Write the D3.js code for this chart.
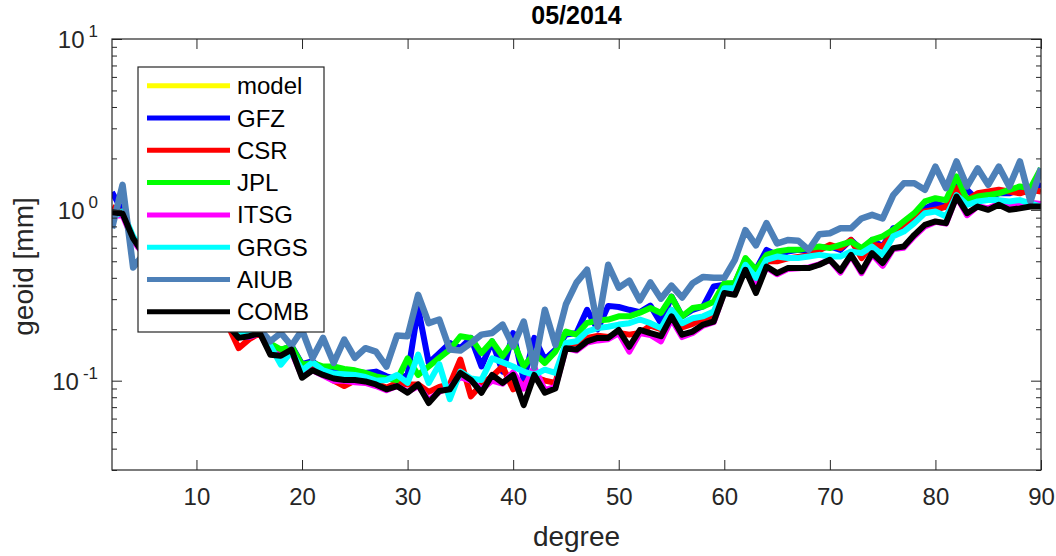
<!DOCTYPE html>
<html>
<head>
<meta charset="utf-8">
<script src="https://cdn.jsdelivr.net/npm/d3@7"></script>
<style>
  html, body { margin: 0; padding: 0; background: #fff; }
  svg { display: block; font-family: "Liberation Sans", Arial, Helvetica, sans-serif; }
</style>
</head>
<body>
<svg id="chart" width="1056" height="556"></svg>
<script>
// ---------- DATA ----------
const degrees = d3.range(2, 91); // 2..90
const titleText = "05/2014";
const xLabel = "degree";
const yLabel = "geoid [mm]";
const xTicks = [10, 20, 30, 40, 50, 60, 70, 80, 90];
const yMajorTicks = [0.1, 1, 10];
const yTickExponents = ["-1", "0", "1"];
const seriesNames = ["model", "GFZ", "CSR", "JPL", "ITSG", "GRGS", "AIUB", "COMB"];
const seriesColors = ["#ffff00", "#0000ff", "#ff0000", "#00ff00", "#ff00ff", "#00ffff", "#4d80b8", "#000000"];

const model = []; // not visible in the figure

const GFZ = [1.27,0.98,0.66,0.56,0.48,0.43,0.38,0.34,0.31,0.28,0.25,0.22,
  0.19,0.195,0.2,0.155,0.15,0.16,0.125,0.13,0.115,0.113,0.115,0.113,0.111,0.113,0.106,0.102,
  0.108,0.266,0.127,0.145,0.166,0.155,0.178,0.121,0.17,0.113,0.19,0.101,0.178,0.133,0.152,
  0.186,0.19,0.26,0.2,0.274,0.27,0.26,0.252,0.275,0.217,0.311,0.238,0.26,0.272,0.356,0.364,
  0.372,0.51,0.446,0.583,0.545,0.57,0.583,0.57,0.597,0.61,0.583,0.667,0.583,0.667,0.61,
  0.78,0.80,0.89,1.02,1.09,1.045,1.37,1.31,1.14,1.196,1.25,1.25,1.31,1.25,1.43];

const CSR = [1.04,0.96,0.67,0.55,0.47,0.42,0.37,0.33,0.30,0.27,0.24,0.21,
  0.155,0.175,0.19,0.15,0.145,0.15,0.112,0.12,0.11,0.1,0.093,0.1,0.1,0.096,0.091,0.097,
  0.095,0.095,0.086,0.092,0.095,0.133,0.081,0.095,0.106,0.121,0.089,0.095,0.105,0.1,0.097,
  0.165,0.165,0.178,0.183,0.18,0.19,0.186,0.19,0.21,0.2,0.26,0.205,0.215,0.23,0.24,0.34,
  0.34,0.48,0.40,0.5,0.5,0.52,0.53,0.54,0.58,0.624,0.597,0.667,0.522,0.624,0.61,
  0.73,0.817,0.914,0.978,1.0,1.045,1.34,1.14,1.25,1.28,1.31,1.28,1.25,1.31,1.28];

const JPL = [0.96,0.97,0.68,0.56,0.48,0.43,0.38,0.34,0.31,0.28,0.25,0.22,
  0.2,0.2,0.2,0.165,0.152,0.159,0.124,0.127,0.121,0.121,0.117,0.115,0.111,0.106,0.103,0.101,
  0.135,0.108,0.121,0.136,0.152,0.182,0.178,0.145,0.17,0.139,0.17,0.121,0.145,0.127,0.148,
  0.194,0.186,0.218,0.225,0.228,0.238,0.238,0.25,0.266,0.249,0.31,0.238,0.266,0.272,0.29,0.372,
  0.372,0.522,0.446,0.545,0.57,0.583,0.583,0.597,0.61,0.597,0.624,0.652,0.597,0.667,0.70,
  0.764,0.855,0.956,1.12,1.17,1.14,1.57,1.14,1.196,1.22,1.25,1.31,1.37,1.34,1.75];

const ITSG = [0.92,0.93,0.66,0.55,0.47,0.42,0.37,0.33,0.30,0.27,0.24,0.21,
  0.182,0.18,0.19,0.148,0.14,0.148,0.106,0.115,0.107,0.1,0.1,0.098,0.097,0.093,0.088,0.093,
  0.086,0.093,0.077,0.086,0.092,0.105,0.1,0.089,0.1,0.096,0.112,0.09,0.12,0.088,0.092,
  0.155,0.15,0.167,0.172,0.175,0.19,0.148,0.19,0.185,0.17,0.23,0.18,0.19,0.21,0.22,0.33,
  0.33,0.46,0.35,0.46,0.42,0.45,0.455,0.46,0.48,0.51,0.43,0.54,0.426,0.55,0.47,
  0.59,0.6,0.7,0.8,0.85,0.83,1.2,0.93,1.05,1.02,1.08,1.05,1.08,1.1,1.08];

const GRGS = [0.90,0.98,0.70,0.56,0.48,0.43,0.38,0.34,0.31,0.28,0.25,0.22,
  0.19,0.19,0.19,0.16,0.124,0.148,0.115,0.128,0.115,0.11,0.109,0.108,0.105,0.1,0.101,0.108,
  0.097,0.142,0.097,0.125,0.078,0.113,0.103,0.101,0.135,0.128,0.121,0.113,0.108,0.116,0.111,
  0.166,0.17,0.194,0.203,0.207,0.213,0.217,0.228,0.217,0.203,0.26,0.217,0.232,0.238,0.254,0.348,
  0.348,0.477,0.40,0.51,0.533,0.522,0.522,0.533,0.545,0.533,0.533,0.57,0.558,0.61,0.545,
  0.70,0.746,0.836,0.956,0.978,0.914,1.22,1.07,1.12,1.14,1.14,1.12,1.14,1.09,1.045];

const AIUB = [0.78,1.40,0.46,0.55,0.5,0.45,0.4,0.36,0.33,0.3,0.27,0.25,
  0.23,0.21,0.2,0.17,0.19,0.16,0.198,0.136,0.178,0.127,0.174,0.136,0.155,0.148,0.121,0.184,
  0.182,0.318,0.217,0.228,0.152,0.15,0.166,0.186,0.19,0.213,0.159,0.222,0.12,0.26,0.162,
  0.28,0.375,0.446,0.207,0.477,0.35,0.385,0.295,0.376,0.302,0.36,0.307,0.372,0.405,0.40,0.40,
  0.51,0.76,0.62,0.836,0.635,0.665,0.66,0.583,0.72,0.73,0.78,0.78,0.89,0.935,0.89,
  1.22,1.43,1.43,1.31,1.79,1.34,1.92,1.37,1.75,1.40,1.79,1.37,1.92,1.12,1.75];

const COMB = [0.97,0.95,0.68,0.55,0.47,0.42,0.37,0.33,0.30,0.27,0.24,0.21,
  0.178,0.182,0.19,0.142,0.14,0.152,0.104,0.115,0.108,0.103,0.101,0.101,0.099,0.095,0.089,0.093,
  0.085,0.095,0.074,0.087,0.089,0.111,0.101,0.085,0.108,0.097,0.108,0.072,0.108,0.085,0.09,
  0.155,0.152,0.17,0.178,0.178,0.198,0.158,0.198,0.19,0.182,0.238,0.186,0.194,0.213,0.222,0.326,
  0.318,0.446,0.326,0.466,0.426,0.456,0.456,0.456,0.477,0.51,0.44,0.545,0.436,0.558,0.488,
  0.597,0.61,0.714,0.817,0.855,0.836,1.196,0.956,1.045,1.0,1.07,1.0,1.02,1.045,1.045];

const seriesValues = [model, GFZ, CSR, JPL, ITSG, GRGS, AIUB, COMB];

// ---------- LAYOUT ----------
const svg = d3.select("#chart");
const pLeft = 112, pRight = 1041, pTop = 39, pBottom = 470;
const axisColor = "#262626";

const x = d3.scaleLinear().domain([2, 90]).range([pLeft, pRight]);
const y = d3.scaleLog().domain([0.03, 10]).range([pBottom, pTop]);

// clip
svg.append("defs").append("clipPath").attr("id", "clip")
  .append("rect").attr("x", pLeft).attr("y", pTop).attr("width", pRight - pLeft).attr("height", pBottom - pTop);

// lines
const line = d3.line()
  .defined(d => d[1] != null && !isNaN(d[1]))
  .x(d => x(d[0])).y(d => y(d[1]));

const gLines = svg.append("g").attr("clip-path", "url(#clip)");
seriesValues.forEach((vals, i) => {
  if (!vals.length) return;
  const pts = vals.map((v, j) => [degrees[j], v]);
  gLines.append("path")
    .datum(pts)
    .attr("d", line)
    .attr("fill", "none")
    .attr("stroke", seriesColors[i])
    .attr("stroke-width", seriesNames[i] === "AIUB" ? 6.5 : 6)
    .attr("stroke-linejoin", "round")
    .attr("stroke-linecap", "butt");
});

// axes: ticks inward, box
const tickLen = 10, minorLen = 5;
const gx = svg.append("g").attr("transform", `translate(0,${pBottom})`)
  .call(d3.axisBottom(x).tickValues(xTicks).tickSize(-tickLen).tickPadding(tickLen + 8).tickFormat(d3.format("d")));
const gxTop = svg.append("g").attr("transform", `translate(0,${pTop})`)
  .call(d3.axisTop(x).tickValues(xTicks).tickSize(-tickLen).tickFormat(""));

// y minor ticks
const yMinor = [];
[0.01, 0.1, 1].forEach(b => { for (let k = 2; k <= 9; k++) { const v = b * k; if (v >= 0.03 && v <= 10) yMinor.push(v); } });

const gyL = svg.append("g").attr("transform", `translate(${pLeft},0)`)
  .call(d3.axisLeft(y).tickValues(yMajorTicks).tickSize(-tickLen).tickFormat(""));
const gyLm = svg.append("g").attr("transform", `translate(${pLeft},0)`)
  .call(d3.axisLeft(y).tickValues(yMinor).tickSize(-minorLen).tickFormat(""));
const gyR = svg.append("g").attr("transform", `translate(${pRight},0)`)
  .call(d3.axisRight(y).tickValues(yMajorTicks).tickSize(-tickLen).tickFormat(""));
const gyRm = svg.append("g").attr("transform", `translate(${pRight},0)`)
  .call(d3.axisRight(y).tickValues(yMinor).tickSize(-minorLen).tickFormat(""));

[gx, gxTop, gyL, gyLm, gyR, gyRm].forEach(g => {
  g.select(".domain").remove();
  g.selectAll(".tick line").attr("stroke", axisColor).attr("stroke-width", 1);
});
gx.selectAll(".tick text").attr("fill", axisColor).attr("font-size", 24)
  .attr("font-family", "'Liberation Sans', Arial, sans-serif");

// box
svg.append("rect").attr("x", pLeft).attr("y", pTop).attr("width", pRight - pLeft).attr("height", pBottom - pTop)
  .attr("fill", "none").attr("stroke", axisColor).attr("stroke-width", 1.2);

// y tick labels 10^k
yMajorTicks.forEach((v, i) => {
  const t = svg.append("text")
    .attr("x", 98).attr("y", y(v) + 9)
    .attr("text-anchor", "end").attr("fill", axisColor).attr("font-size", 24);
  t.append("tspan").text("10");
  t.append("tspan").attr("dx", 4).attr("dy", -11).attr("font-size", 17).text(yTickExponents[i]);
});

// title and labels
svg.append("text").attr("x", (pLeft + pRight) / 2).attr("y", 24)
  .attr("text-anchor", "middle").attr("font-weight", "bold").attr("font-size", 25).attr("fill", "#000")
  .text(titleText);
svg.append("text").attr("x", (pLeft + pRight) / 2).attr("y", 546)
  .attr("text-anchor", "middle").attr("font-size", 28).attr("fill", axisColor)
  .text(xLabel);
svg.append("text").attr("transform", `translate(33,${(pTop + pBottom) / 2 + 12}) rotate(-90)`)
  .attr("text-anchor", "middle").attr("font-size", 28).attr("fill", axisColor)
  .text(yLabel);

// legend
const lg = svg.append("g");
const lgX = 138, lgY = 67, lgW = 186, lgH = 265, rowH = 32.3, firstRow = 85.7;
lg.append("rect").attr("x", lgX).attr("y", lgY).attr("width", lgW).attr("height", lgH)
  .attr("fill", "#fff").attr("stroke", axisColor).attr("stroke-width", 1.2);
seriesNames.forEach((name, i) => {
  const cy = firstRow + i * rowH;
  lg.append("line").attr("x1", 147).attr("x2", 230).attr("y1", cy).attr("y2", cy)
    .attr("stroke", seriesColors[i]).attr("stroke-width", 5);
  lg.append("text").attr("x", 237).attr("y", cy + 8.5).attr("font-size", 24).attr("fill", "#000")
    .text(name);
});
</script>
</body>
</html>
